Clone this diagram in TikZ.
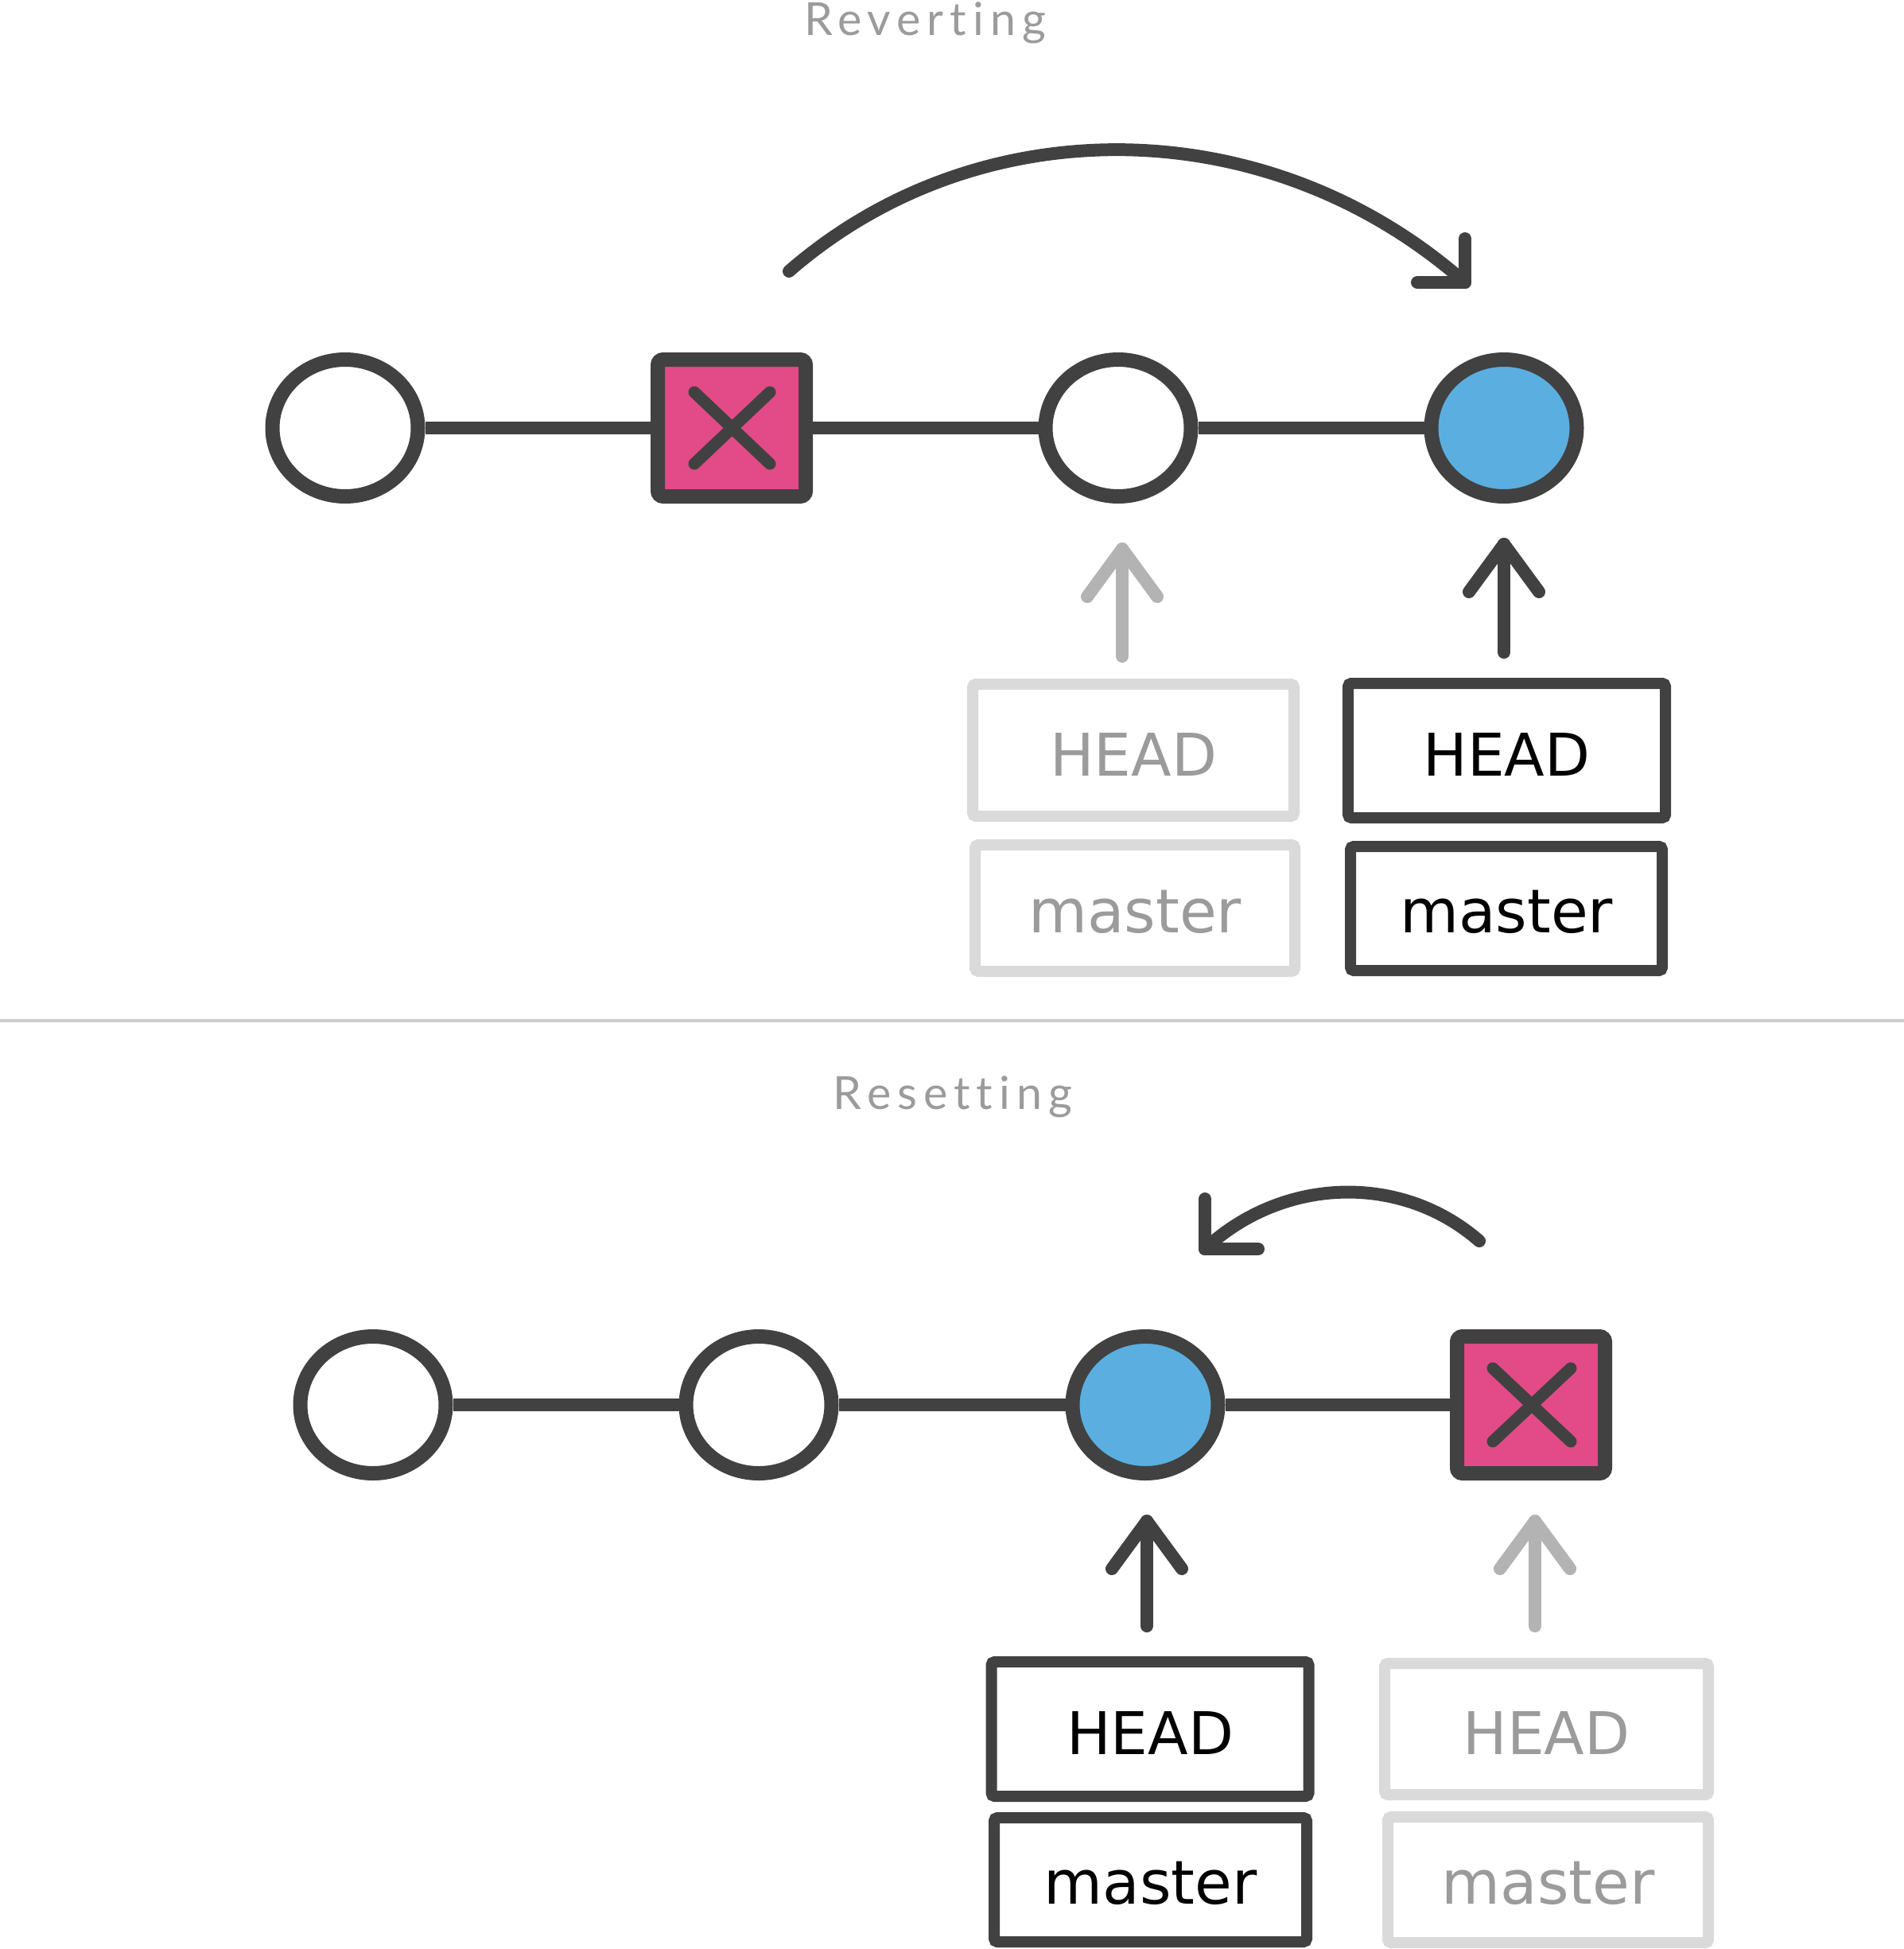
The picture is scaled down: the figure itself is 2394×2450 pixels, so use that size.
\documentclass[tikz,border=0pt]{standalone}
\usepackage{fontspec}
\setmainfont{DejaVu Sans}
\newfontfamily\titlefont[LetterSpace=14,Ligatures={NoCommon}]{Lato}
\usetikzlibrary{shapes.geometric,calc}
\definecolor{dk}{HTML}{414141}
\definecolor{pinkx}{HTML}{E24B87}
\definecolor{bluex}{HTML}{5BAEE0}
\definecolor{garrow}{HTML}{B3B3B3}
\definecolor{lborder}{HTML}{DADADA}
\definecolor{gtext}{HTML}{9B9B9B}
\definecolor{sepline}{HTML}{CCCCCC}
\begin{document}
\begin{tikzpicture}[x=0.3pt,y=-0.3pt,
  commit/.style={ellipse,draw=dk,line width=5.4pt,fill=white,minimum width=54.9pt,minimum height=51.6pt,inner sep=0pt},
  current/.style={commit,fill=bluex},
  badcommit/.style={rectangle,draw=dk,line width=5.4pt,fill=pinkx,minimum width=55.8pt,minimum height=51.6pt,inner sep=0pt,rounded corners=2pt},
  crossline/.style={draw=dk,line width=4.5pt,line cap=round},
  link/.style={draw=dk,line width=4.8pt},
  refbox/.style={rectangle,draw=dk,line width=4.2pt,rounded corners=1.2pt,inner sep=0pt,text=black},
  oldbox/.style={refbox,draw=lborder,text=gtext},
  headtxt/.style={font=\fontsize{22.2pt}{26pt}\selectfont,text height=19.4pt,text depth=0pt},
  mastertxt/.style={font=\fontsize{22.8pt}{27pt}\selectfont,text height=18.3pt,text depth=0pt},
  uparrow/.style={line width=4.8pt,line cap=round,line join=round},
  darkarrow/.style={uparrow,draw=dk},
  greyarrow/.style={uparrow,draw=garrow},
  moveline/.style={draw=dk,line width=4.8pt,line cap=round,line join=round},
  titletxt/.style={font=\titlefont\fontsize{17.2pt}{20pt}\selectfont,text=gtext,anchor=base,inner sep=0pt}
]
\useasboundingbox (0,0) rectangle (2394,2450);

% ---------- Reverting ----------
\node[titletxt] (t1) at (1163,45) {Reverting};

\node[commit] (r1) at (434,538) {};
\node[badcommit] (r2) at (920,538) {};
\node[commit] (r3) at (1406,538) {};
\node[current] (r4) at (1891,538) {};
\draw[link] (r1) -- (r2);
\draw[link] (r2) -- (r3);
\draw[link] (r3) -- (r4);
\draw[crossline] ($(r2)+(-47,-45)$) -- ($(r2)+(48,45)$);
\draw[crossline] ($(r2)+(-47,45)$) -- ($(r2)+(48,-45)$);

% revert arc
\coordinate (ra) at (992,341);
\coordinate (rb) at (1842,355);
\coordinate (rh1) at (1782,355);
\coordinate (rh2) at (1842,300);
\draw[moveline] (ra) .. controls (1232,132) and (1596,138) .. (rb);
\draw[moveline] (rh1) -- (rb) -- (rh2);

% refs
\node[oldbox,headtxt,minimum width=121.2pt,minimum height=49.8pt] (rhOld) at (1425,943) {HEAD};
\node[oldbox,mastertxt,minimum width=120.6pt,minimum height=47.7pt] (rmOld) at (1427,1141.5) {master};
\node[refbox,headtxt,minimum width=119.7pt,minimum height=50.7pt] (rhNew) at (1894.5,943.5) {HEAD};
\node[refbox,mastertxt,minimum width=117.6pt,minimum height=46.8pt] (rmNew) at (1894,1142) {master};

\coordinate (ga1) at (1411,825);
\coordinate (ga2) at (1411,690);
\draw[greyarrow] (ga1) -- (ga2);
\draw[greyarrow] (1367,750) -- (ga2) -- (1455,750);
\coordinate (da1) at (1891,820);
\coordinate (da2) at (1891,684);
\draw[darkarrow] (da1) -- (da2);
\draw[darkarrow] (1847,744) -- (da2) -- (1935,744);

% separator
\coordinate (sepL) at (0,1283);
\coordinate (sepR) at (2394,1283);
\draw[draw=sepline,line width=1.2pt] (sepL) -- (sepR);

% ---------- Resetting ----------
\node[titletxt] (t2) at (1198,1394) {Resetting};

\node[commit] (s1) at (469,1766) {};
\node[commit] (s2) at (954,1766) {};
\node[current] (s3) at (1440,1766) {};
\node[badcommit] (s4) at (1925,1766) {};
\draw[link] (s1) -- (s2);
\draw[link] (s2) -- (s3);
\draw[link] (s3) -- (s4);
\draw[crossline] ($(s4)+(-48,-46)$) -- ($(s4)+(50,46)$);
\draw[crossline] ($(s4)+(-48,46)$) -- ($(s4)+(50,-46)$);

% reset arc
\coordinate (sa) at (1860,1560);
\coordinate (sb) at (1515,1570);
\coordinate (sh1) at (1582,1570);
\coordinate (sh2) at (1515,1507);
\draw[moveline] (sa) .. controls (1763,1475) and (1614,1478) .. (sb);
\draw[moveline] (sh1) -- (sb) -- (sh2);

% refs
\node[refbox,headtxt,minimum width=119.7pt,minimum height=50.7pt] (shNew) at (1446,2173.5) {HEAD};
\node[refbox,mastertxt,minimum width=117.9pt,minimum height=46.8pt] (smNew) at (1446.5,2363) {master};
\node[oldbox,headtxt,minimum width=122.1pt,minimum height=49.5pt] (shOld) at (1944.5,2173.5) {HEAD};
\node[oldbox,mastertxt,minimum width=120.9pt,minimum height=47.4pt] (smOld) at (1946.5,2363) {master};

\coordinate (db1) at (1442,2044);
\coordinate (db2) at (1442,1912);
\draw[darkarrow] (db1) -- (db2);
\draw[darkarrow] (1398,1972) -- (db2) -- (1486,1972);
\coordinate (gb1) at (1930,2044);
\coordinate (gb2) at (1930,1912);
\draw[greyarrow] (gb1) -- (gb2);
\draw[greyarrow] (1886,1972) -- (gb2) -- (1974,1972);
\end{tikzpicture}
\end{document}
